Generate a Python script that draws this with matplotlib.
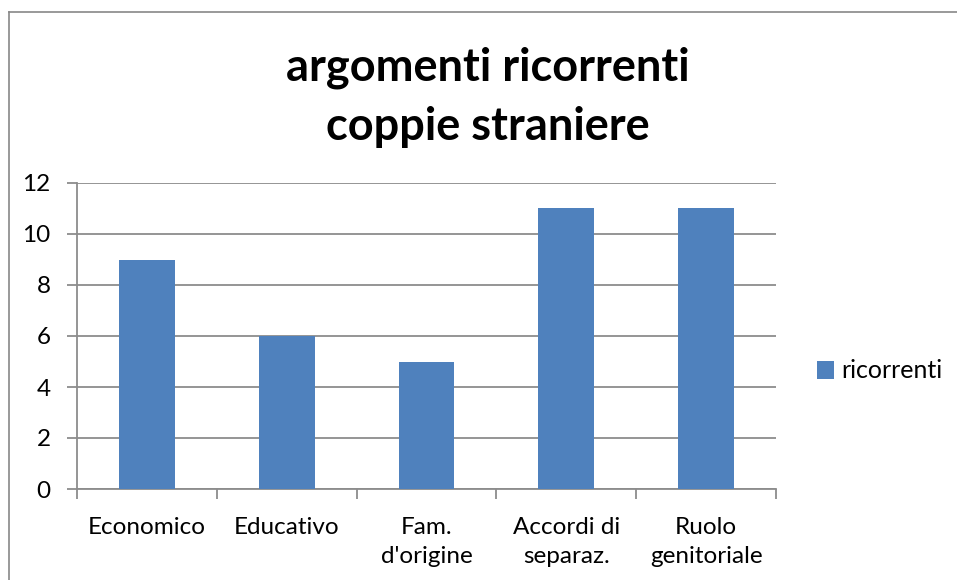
import matplotlib
matplotlib.use('agg')
import matplotlib.pyplot as plt
import numpy as np

categorie = ['Economico', 'Educativo', "Fam.\nd'origine", 'Accordi di\nseparaz.', 'Ruolo\ngenitoriale']
ricorrenti = [9, 6, 5, 11, 11]
y_ticks = [0, 2, 4, 6, 8, 10, 12]

plt.rcParams['font.family'] = ['Lato', 'DejaVu Sans']

fig = plt.figure(figsize=(9.57, 5.80), dpi=100)
# bordo del grafico (solo sopra e a sinistra visibili)
fig.add_artist(plt.Line2D([0.0094, 1.0], [1 - 12 / 580, 1 - 12 / 580], color='#878787', lw=1.2))
fig.add_artist(plt.Line2D([0.0094, 0.0094], [0, 1 - 12 / 580], color='#878787', lw=1.2))

ax = fig.add_axes([77 / 957, 1 - 489 / 580, 699 / 957, 306 / 580])

x = np.arange(len(categorie))
ax.bar(x, ricorrenti, width=0.4, color='#4F81BD', label='ricorrenti', zorder=3)

ax.set_xlim(-0.5, len(categorie) - 0.5)
ax.set_ylim(0, 12)
ax.set_yticks(y_ticks)
ax.set_yticklabels([str(v) for v in y_ticks], fontsize=17.5)
ax.yaxis.grid(True, color='#8c8c8c', lw=1.3, zorder=0)

ax.set_xticks(np.arange(len(categorie) + 1) - 0.5)
ax.set_xticklabels([])
ax.set_xticks(x, minor=True)
ax.set_xticklabels(categorie, minor=True, fontsize=17.5, linespacing=1.5, va='top')
ax.tick_params(axis='x', which='minor', length=0, pad=20)
ax.tick_params(axis='x', which='major', length=7, color='#8c8c8c', width=1.3)
ax.tick_params(axis='y', length=7, color='#8c8c8c', width=1.3, pad=12)

for s in ['top', 'right']:
    ax.spines[s].set_visible(False)
for s in ['left', 'bottom']:
    ax.spines[s].set_color('#8c8c8c')
    ax.spines[s].set_linewidth(1.3)

fig.text(488 / 957, 1 - 97 / 580, 'argomenti ricorrenti\ncoppie straniere', ha='center', va='center',
         fontsize=32.5, fontweight='bold', linespacing=1.5)

fig.legend(loc='center left', bbox_to_anchor=(794 / 957, 1 - 371 / 580), frameon=False,
           fontsize=18, handlelength=0.7, handleheight=0.7, handletextpad=0.3)

plt.savefig('out.png', dpi=100)
plt.close()
